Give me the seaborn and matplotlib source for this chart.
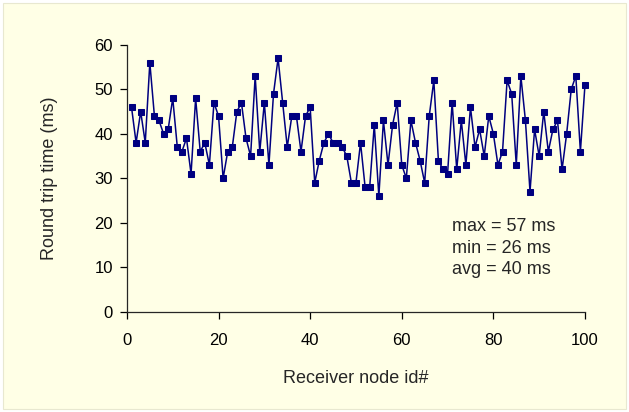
import numpy as np
import pandas as pd
import matplotlib
matplotlib.use('Agg')
import matplotlib.pyplot as plt
import seaborn as sns
from matplotlib.patches import Rectangle

# Datos
node_id = list(range(1, 101))
rtt_ms = [46, 38, 45, 38, 56, 44, 43, 40, 41, 48,
          37, 36, 39, 31, 48, 36, 38, 33, 47, 44,
          30, 36, 37, 45, 47, 39, 35, 53, 36, 47,
          33, 49, 57, 47, 37, 44, 44, 36, 44, 46,
          29, 34, 38, 40, 38, 38, 37, 35, 29, 29,
          38, 28, 28, 42, 26, 43, 33, 42, 47, 33,
          30, 43, 38, 34, 29, 44, 52, 34, 32, 31,
          47, 32, 43, 33, 46, 37, 41, 35, 44, 40,
          33, 36, 52, 49, 33, 53, 43, 27, 41, 35,
          45, 36, 41, 43, 32, 40, 50, 53, 36, 51]
stats_text = ['max = 57 ms', 'min = 26 ms', 'avg = 40 ms']
x_ticks = [0, 20, 40, 60, 80, 100]
y_ticks = [0, 10, 20, 30, 40, 50, 60]

df = pd.DataFrame({'node': node_id, 'rtt': rtt_ms})

sns.set_style('ticks')
plt.rcParams['font.family'] = ['Liberation Sans', 'DejaVu Sans']

bg = '#FFFFE6'
fig = plt.figure(figsize=(6.29, 4.12), dpi=100, facecolor='white')
# fondo amarillo con borde blanco
fig.patches.append(Rectangle((3 / 629, 3 / 412), 623 / 629, 406 / 412,
                             transform=fig.transFigure, facecolor=bg,
                             edgecolor='#E8E8D0', linewidth=0.8, zorder=-10))

ax = fig.add_axes([0.2018, 0.2435, 0.7282, 0.6475])
ax.set_facecolor(bg)

sns.lineplot(data=df, x='node', y='rtt', ax=ax, color='#000080',
             linewidth=1.1, marker='s', markersize=4.5,
             markeredgecolor='#000080', markerfacecolor='#000080',
             clip_on=False)

ax.set_xlim(0, 100)
ax.set_ylim(0, 60)
ax.set_xticks(x_ticks)
ax.set_yticks(y_ticks)
ax.tick_params(axis='both', direction='out', length=5, width=0.9,
               labelsize=12, colors='black', pad=5)
ax.tick_params(axis='x', pad=10)
ax.spines['left'].set_linewidth(0.9)
ax.spines['bottom'].set_linewidth(0.9)
sns.despine(ax=ax)

ax.set_xlabel('Receiver node id#', fontsize=13, labelpad=16)
ax.set_ylabel('Round trip time (ms)', fontsize=13, labelpad=26)

for i, t in enumerate(stats_text):
    ax.text(70.9, 19.05 - i * 4.83, t, fontsize=13, va='center', ha='left')

fig.savefig('out.png', dpi=100, facecolor=fig.get_facecolor())
